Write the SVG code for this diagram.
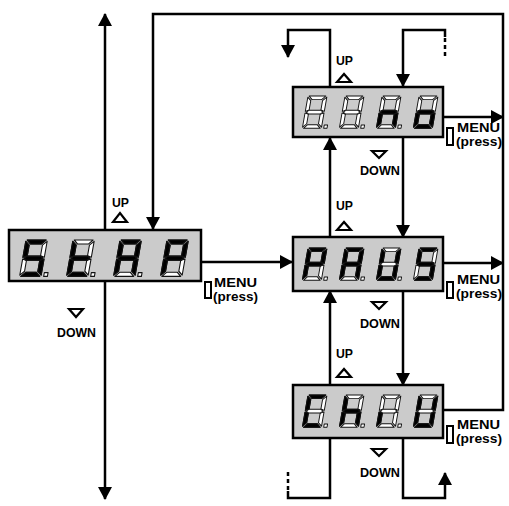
<svg xmlns="http://www.w3.org/2000/svg" width="509" height="506" viewBox="0 0 509 506">
<style>
.bg{fill:#fff}
.box{fill:#cbcbcb;stroke:#000;stroke-width:2.5}
.ln{fill:none;stroke:#000;stroke-width:2.5}
.dash{fill:none;stroke:#000;stroke-width:2.5;stroke-dasharray:4 3}
.tri{fill:#fff;stroke:#000;stroke-width:2.2;stroke-linejoin:miter}
.btn{fill:#fff;stroke:#000;stroke-width:2}
.lbl{font-family:"Liberation Sans",Arial,sans-serif;font-weight:bold;font-size:13.5px;fill:#000}
.sm{font-size:13px}
.dg{fill:#fff;stroke:#111;stroke-width:1;stroke-linejoin:round}
.dg .on{fill:#000}
</style>
<defs>
<marker id="ah" markerWidth="13" markerHeight="14" refX="12" refY="7" orient="auto" markerUnits="userSpaceOnUse">
<path d="M0,0 L13,7 L0,14 Z" fill="#000"/>
</marker>
<polygon id="sa" points="1.2,0 18.8,0 15,3.8 5,3.8"/>
<polygon id="sb" points="20,1.2 20,16.2 16.2,14.8 16.2,4.8"/>
<polygon id="sc" points="20,17.8 20,32.8 16.2,29.2 16.2,19.2"/>
<polygon id="sd" points="1.2,34 5,30.2 15,30.2 18.8,34"/>
<polygon id="se" points="0,17.8 3.8,19.2 3.8,29.2 0,32.8"/>
<polygon id="sf" points="0,1.2 3.8,4.8 3.8,14.8 0,16.2"/>
<polygon id="sg" points="1.2,17 3.6,15.1 16.4,15.1 18.8,17 16.4,18.9 3.6,18.9"/>
<rect id="dp" x="22.5" y="30.5" width="3.5" height="3.5"/>
<g id="d8"><use href="#sa"/><use href="#sb"/><use href="#sc"/><use href="#sd"/><use href="#se"/><use href="#sf"/><use href="#sg"/></g>
</defs>
<rect class="bg" x="0" y="0" width="509" height="506"/>

<g id="connectors">
<path class="ln" d="M105,230 V14" marker-end="url(#ah)"/>
<path class="ln" d="M105,281 V499" marker-end="url(#ah)"/>
<path class="ln" d="M443,410 H503 V14 H153 V229" marker-end="url(#ah)"/>
<path class="ln" d="M201,262 H292" marker-end="url(#ah)"/>
<path class="ln" d="M443,117 H503" marker-end="url(#ah)"/>
<path class="ln" d="M443,263 H503" marker-end="url(#ah)"/>
<path class="ln" d="M330,86 V30 H288 V57" marker-end="url(#ah)"/>
<path class="ln" d="M445,37 V30 H403 V86" marker-end="url(#ah)"/>
<path class="dash" d="M445,38 V58"/>
<path class="ln" d="M330,237 V138" marker-end="url(#ah)"/>
<path class="ln" d="M403,138 V237" marker-end="url(#ah)"/>
<path class="ln" d="M330,385 V291" marker-end="url(#ah)"/>
<path class="ln" d="M403,291 V385" marker-end="url(#ah)"/>
<path class="ln" d="M330,438 V498 H288 V491"/>
<path class="dash" d="M288,490 V472"/>
<path class="ln" d="M403,438 V498 H445 V473" marker-end="url(#ah)"/>
</g>

<g id="node-stap">
<rect class="box" x="9" y="230" width="192" height="51"/>
<g class="dg" transform="translate(26,240) skewX(-10) scale(1.07)"><use href="#d8"/><use href="#dp"/><use class="on" href="#sa"/><use class="on" href="#sf"/><use class="on" href="#sg"/><use class="on" href="#sc"/><use class="on" href="#sd"/></g>
<g class="dg" transform="translate(73,240) skewX(-10) scale(1.07)"><use href="#d8"/><use href="#dp"/><use class="on" href="#sf"/><use class="on" href="#sg"/><use class="on" href="#se"/><use class="on" href="#sd"/></g>
<g class="dg" transform="translate(120,240) skewX(-10) scale(1.07)"><use href="#d8"/><use href="#dp"/><use class="on" href="#sa"/><use class="on" href="#sb"/><use class="on" href="#sc"/><use class="on" href="#se"/><use class="on" href="#sf"/><use class="on" href="#sg"/></g>
<g class="dg" transform="translate(167,240) skewX(-10) scale(1.07)"><use href="#d8"/><use class="on" href="#sa"/><use class="on" href="#sb"/><use class="on" href="#sf"/><use class="on" href="#sg"/><use class="on" href="#se"/></g>
<text class="lbl" x="112" y="207" textLength="17" lengthAdjust="spacingAndGlyphs">UP</text>
<polygon class="tri" points="113,222 120,213 127,222"/>
<polygon class="tri" points="69,309 83,309 76,317"/>
<text class="lbl" x="57" y="337" textLength="39" lengthAdjust="spacingAndGlyphs">DOWN</text>
<rect class="btn" x="205" y="282" width="6" height="16"/>
<text class="lbl sm" x="214" y="287" textLength="43" lengthAdjust="spacingAndGlyphs">MENU</text>
<text class="lbl sm" x="213" y="301" textLength="45" lengthAdjust="spacingAndGlyphs">(press)</text>
</g>

<g id="node-no">
<rect class="box" x="293" y="87" width="150" height="50"/>
<g class="dg" transform="translate(308,96) skewX(-10) scale(0.95)"><use href="#d8"/><use href="#dp"/></g>
<g class="dg" transform="translate(345,96) skewX(-10) scale(0.95)"><use href="#d8"/><use href="#dp"/></g>
<g class="dg" transform="translate(382,96) skewX(-10) scale(0.95)"><use href="#d8"/><use href="#dp"/><use class="on" href="#se"/><use class="on" href="#sg"/><use class="on" href="#sc"/></g>
<g class="dg" transform="translate(419,96) skewX(-10) scale(0.95)"><use href="#d8"/><use class="on" href="#se"/><use class="on" href="#sg"/><use class="on" href="#sc"/><use class="on" href="#sd"/></g>
<text class="lbl" x="336" y="65" textLength="17" lengthAdjust="spacingAndGlyphs">UP</text>
<polygon class="tri" points="337,82 344,74 351,82"/>
<polygon class="tri" points="372,151 386,151 379,158"/>
<text class="lbl" x="360" y="175" textLength="40" lengthAdjust="spacingAndGlyphs">DOWN</text>
<rect class="btn" x="447" y="128" width="6" height="17"/>
<text class="lbl sm" x="457" y="132" textLength="43" lengthAdjust="spacingAndGlyphs">MENU</text>
<text class="lbl sm" x="456" y="146" textLength="46" lengthAdjust="spacingAndGlyphs">(press)</text>
</g>

<g id="node-paus">
<rect class="box" x="293" y="237" width="150" height="54"/>
<g class="dg" transform="translate(308,248) skewX(-10) scale(0.95)"><use href="#d8"/><use href="#dp"/><use class="on" href="#sa"/><use class="on" href="#sb"/><use class="on" href="#sf"/><use class="on" href="#sg"/><use class="on" href="#se"/></g>
<g class="dg" transform="translate(345,248) skewX(-10) scale(0.95)"><use href="#d8"/><use href="#dp"/><use class="on" href="#sa"/><use class="on" href="#sb"/><use class="on" href="#sc"/><use class="on" href="#se"/><use class="on" href="#sf"/><use class="on" href="#sg"/></g>
<g class="dg" transform="translate(382,248) skewX(-10) scale(0.95)"><use href="#d8"/><use href="#dp"/><use class="on" href="#sb"/><use class="on" href="#sc"/><use class="on" href="#sd"/><use class="on" href="#se"/><use class="on" href="#sf"/></g>
<g class="dg" transform="translate(419,248) skewX(-10) scale(0.95)"><use href="#d8"/><use class="on" href="#sa"/><use class="on" href="#sf"/><use class="on" href="#sg"/><use class="on" href="#sc"/><use class="on" href="#sd"/></g>
<text class="lbl" x="336" y="210" textLength="17" lengthAdjust="spacingAndGlyphs">UP</text>
<polygon class="tri" points="337,230 344,222 351,230"/>
<polygon class="tri" points="372,302 386,302 379,309"/>
<text class="lbl" x="360" y="328" textLength="40" lengthAdjust="spacingAndGlyphs">DOWN</text>
<rect class="btn" x="447" y="282" width="6" height="16"/>
<text class="lbl sm" x="457" y="284" textLength="43" lengthAdjust="spacingAndGlyphs">MENU</text>
<text class="lbl sm" x="456" y="298" textLength="46" lengthAdjust="spacingAndGlyphs">(press)</text>
</g>

<g id="node-chiu">
<rect class="box" x="293" y="385" width="150" height="53"/>
<g class="dg" transform="translate(308,395) skewX(-10) scale(0.95)"><use href="#d8"/><use href="#dp"/><use class="on" href="#sa"/><use class="on" href="#sf"/><use class="on" href="#se"/><use class="on" href="#sd"/></g>
<g class="dg" transform="translate(345,395) skewX(-10) scale(0.95)"><use href="#d8"/><use href="#dp"/><use class="on" href="#sf"/><use class="on" href="#se"/><use class="on" href="#sg"/><use class="on" href="#sc"/></g>
<g class="dg" transform="translate(382,395) skewX(-10) scale(0.95)"><use href="#d8"/><use href="#dp"/><use class="on" href="#se"/></g>
<g class="dg" transform="translate(419,395) skewX(-10) scale(0.95)"><use href="#d8"/><use class="on" href="#sb"/><use class="on" href="#sc"/><use class="on" href="#sd"/><use class="on" href="#se"/><use class="on" href="#sf"/></g>
<text class="lbl" x="336" y="358" textLength="17" lengthAdjust="spacingAndGlyphs">UP</text>
<polygon class="tri" points="337,377 344,369 351,377"/>
<polygon class="tri" points="372,449 386,449 379,456"/>
<text class="lbl" x="360" y="477" textLength="40" lengthAdjust="spacingAndGlyphs">DOWN</text>
<rect class="btn" x="447" y="426" width="6" height="17"/>
<text class="lbl sm" x="457" y="429" textLength="43" lengthAdjust="spacingAndGlyphs">MENU</text>
<text class="lbl sm" x="456" y="443" textLength="46" lengthAdjust="spacingAndGlyphs">(press)</text>
</g>
</svg>
